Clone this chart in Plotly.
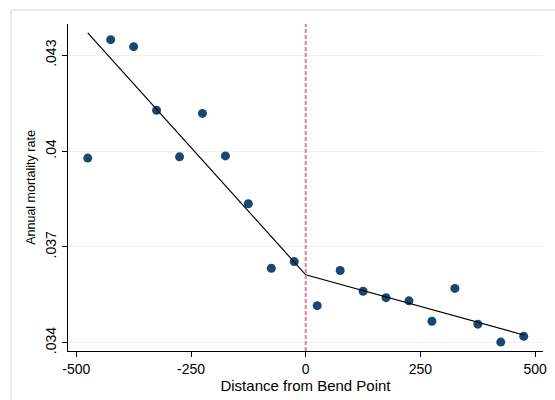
import plotly.graph_objects as go

# Data
bin_centers = [-475, -425, -375, -325, -275, -225, -175, -125, -75, -25,
               25, 75, 125, 175, 225, 275, 325, 375, 425, 475]
mortality = [0.03978, 0.04349, 0.04327, 0.04128, 0.03982, 0.04118, 0.03985,
             0.03835, 0.03633, 0.03654, 0.03516, 0.03626, 0.03561, 0.03541,
             0.03531, 0.03467, 0.03570, 0.03458, 0.03402, 0.03420]
fit_x = [-475, 0, 475]
fit_y = [0.04370, 0.036125, 0.03424]
x_ticks = [-500, -250, 0, 250, 500]
x_tick_labels = ["-500", "-250", "0", "250", "500"]
y_ticks = [0.034, 0.037, 0.040, 0.043]
y_tick_labels = [".034", ".037", ".04", ".043"]
bend_point = 0

font_family = "Liberation Sans, Arial, sans-serif"
grid_col = "#EAF2F3"
frame_col = "#DDE9EA"

fig = go.Figure()
fig.add_trace(go.Scatter(
    x=bin_centers, y=mortality, mode="markers",
    marker=dict(color="#1A476F", size=9, line=dict(width=0)),
    showlegend=False, hoverinfo="x+y"))
fig.add_trace(go.Scatter(
    x=fit_x, y=fit_y, mode="lines",
    line=dict(color="black", width=1.2),
    showlegend=False))

fig.add_shape(type="line", xref="x", yref="paper",
              x0=bend_point, x1=bend_point, y0=0, y1=1,
              line=dict(color="#E07E95", width=2, dash="4px,2px"))

# outer light frame (top and left edges visible)
fig.add_shape(type="line", xref="paper", yref="paper",
              x0=-0.12, x1=1.04, y0=1.0428, y1=1.0428,
              line=dict(color=frame_col, width=1.5))
fig.add_shape(type="line", xref="paper", yref="paper",
              x0=-0.12, x1=-0.12, y0=1.0428, y1=-0.2,
              line=dict(color=frame_col, width=1.5))

fig.update_layout(
    width=555, height=400,
    margin=dict(l=68, r=12, t=24, b=49, autoexpand=False),
    paper_bgcolor="white", plot_bgcolor="white",
    font=dict(family=font_family, color="black", size=14),
    xaxis=dict(
        range=[-518, 517], tickvals=x_ticks, ticktext=x_tick_labels,
        showgrid=False, zeroline=False,
        showline=True, linecolor="black", linewidth=1,
        ticks="outside", ticklen=5, tickcolor="black", tickwidth=1,
        tickfont=dict(size=14),
        title=dict(text="Distance from Bend Point", font=dict(size=15), standoff=1),
    ),
    yaxis=dict(
        range=[0.03374, 0.04398], tickvals=y_ticks, ticktext=y_tick_labels,
        showgrid=True, gridcolor=grid_col, gridwidth=1, zeroline=False,
        showline=True, linecolor="black", linewidth=1,
        ticks="outside", ticklen=5, tickcolor="black", tickwidth=1,
        tickangle=-90, tickfont=dict(size=14),
        title=dict(text="Annual mortality rate", font=dict(size=12.5), standoff=5),
    ),
)

fig.write_html("out.html", config={"displayModeBar": False},
               post_script="document.body.style.margin='0';")
